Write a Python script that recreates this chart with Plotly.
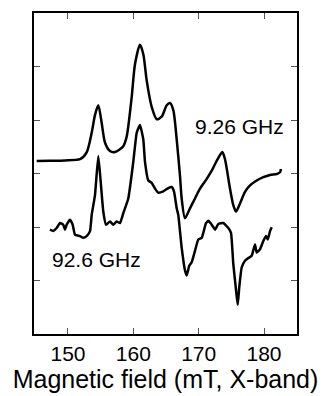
import plotly.graph_objects as go

# 9.26 GHz spectrum (upper trace)
x_926 = [145.21, 147.24, 149.54, 151.84, 152.86, 153.63, 154.13, 154.64, 155.16, 155.66,
         156.43, 157.19, 158.46, 158.99, 159.75, 160.26, 161.02, 161.53, 162.05, 162.81,
         163.58, 164.34, 165.11, 165.61, 166.12, 166.64, 167.14, 167.40, 167.91, 168.67,
         169.44, 170.20, 171.23, 172.00, 172.76, 173.62, 174.03, 174.80, 175.30, 175.72,
         176.33, 177.09, 177.86, 178.88, 179.89, 180.92, 181.95, 182.45, 182.60]
y_926 = [3.241, 3.244, 3.250, 3.272, 3.401, 3.768, 4.099, 4.283, 3.952, 3.585,
         3.425, 3.406, 3.517, 3.700, 4.436, 5.055, 5.417, 5.239, 4.743, 4.252,
         4.020, 4.068, 4.283, 4.325, 4.191, 3.640, 2.965, 2.537, 2.169, 2.353,
         2.537, 2.721, 2.904, 3.057, 3.241, 3.406, 3.272, 2.721, 2.414, 2.292,
         2.445, 2.660, 2.781, 2.873, 2.936, 2.978, 2.996, 3.028, 3.088]

# 92.6 GHz spectrum (lower trace)
x_926g = [147.24, 147.75, 148.27, 148.78, 149.28, 149.54, 149.80, 150.31, 150.72, 151.07,
          151.84, 152.34, 152.86, 153.37, 153.63, 154.13, 154.64, 155.01, 155.40, 155.82,
          156.43, 156.93, 157.45, 157.96, 158.46, 159.23, 159.99, 160.52, 161.02, 161.53,
          161.79, 162.29, 162.81, 163.32, 163.82, 164.59, 165.35, 165.87, 166.23, 166.64,
          166.88, 167.40, 167.91, 168.17, 168.57, 168.93, 169.44, 169.94, 170.47, 170.71,
          171.12, 171.48, 172.00, 172.50, 173.01, 173.77, 174.54, 174.95, 175.30, 175.72,
          175.98, 176.22, 176.59, 177.09, 177.60, 178.12, 178.62, 178.88, 179.39, 179.89,
          180.31, 180.57, 180.92, 181.18]
y_926g = [1.954, 1.930, 1.985, 2.077, 2.046, 1.954, 2.046, 2.138, 2.046, 1.862,
          1.833, 1.801, 1.833, 1.925, 2.230, 2.597, 3.333, 2.849, 2.298, 2.046,
          2.108, 2.046, 2.108, 2.077, 2.261, 2.537, 3.217, 3.768, 3.915, 3.640,
          3.217, 2.873, 2.831, 2.721, 2.647, 2.671, 2.733, 2.752, 2.665, 2.353,
          2.230, 1.618, 1.189, 1.097, 1.281, 1.342, 1.557, 1.770, 1.801, 1.893,
          2.077, 2.119, 2.046, 1.954, 2.059, 2.077, 1.985, 1.893, 1.311, 0.822,
          0.546, 0.882, 1.250, 1.373, 1.421, 1.465, 1.678, 1.526, 1.586, 1.741,
          1.833, 1.770, 1.925, 1.998]

x_ticks = [150, 160, 170, 180]
y_ticks = [1, 2, 3, 4, 5]
labels = ["9.26 GHz", "92.6 GHz"]
label_x = [176.3, 154.3]
label_y = [3.89, 1.39]

FONT = "Liberation Sans, Arial, Helvetica, sans-serif"

fig = go.Figure()
fig.add_trace(go.Scatter(x=x_926, y=y_926, mode="lines",
                         line=dict(color="black", width=2.5, shape="spline", smoothing=0.7),
                         showlegend=False))
fig.add_trace(go.Scatter(x=x_926g, y=y_926g, mode="lines",
                         line=dict(color="black", width=2.5, shape="spline", smoothing=0.4),
                         showlegend=False))

for t, xx, yy in zip(labels, label_x, label_y):
    fig.add_annotation(x=xx, y=yy, text=t, showarrow=False,
                       font=dict(size=21, color="black", family=FONT))

fig.update_layout(
    width=325, height=396,
    margin=dict(l=34, r=28, t=11, b=58),
    paper_bgcolor="white", plot_bgcolor="white",
    font=dict(family=FONT, color="black"),
)
fig.update_xaxes(
    range=[144.8, 185.05], tickvals=x_ticks, ticks="inside", ticklen=6,
    tickwidth=1.3, tickcolor="#555", showline=True, linecolor="black", linewidth=2,
    mirror="ticks", showgrid=False, zeroline=False,
    tickfont=dict(size=21, color="black"),
    title=dict(text="Magnetic field (mT, X-band)", font=dict(size=25, color="black"), standoff=2),
)
fig.update_yaxes(
    range=[0, 6.01], tickvals=y_ticks, ticks="inside", ticklen=6,
    tickwidth=1.3, tickcolor="#555", showline=True, linecolor="black", linewidth=2,
    mirror="ticks", showgrid=False, zeroline=False, showticklabels=False,
)

fig.write_html("out.html")
